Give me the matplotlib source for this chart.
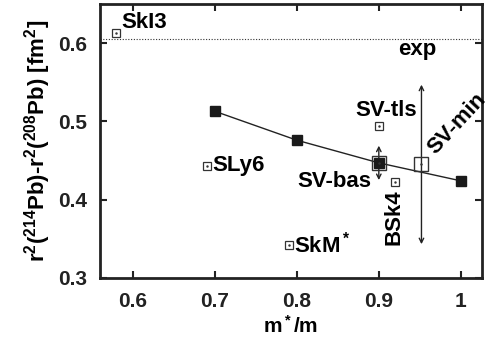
import matplotlib
matplotlib.use("Agg")
import matplotlib.pyplot as plt

plt.rcParams['font.family'] = ['Liberation Sans', 'DejaVu Sans']
plt.rcParams['font.weight'] = 'bold'
plt.rcParams['mathtext.fontset'] = 'custom'
plt.rcParams['mathtext.rm'] = 'Liberation Sans:bold'
plt.rcParams['mathtext.it'] = 'Liberation Sans:bold'
plt.rcParams['mathtext.bf'] = 'Liberation Sans:bold'

# series with varying effective mass (filled, connected)
line_x = [0.7, 0.8, 0.9, 1.0]
line_y = [0.513, 0.476, 0.447, 0.424]

# other forces (small open squares)
force_names = ["SkI3", "SLy6", "SkM$^*$", "SV-tls", "BSk4"]
force_x = [0.58, 0.69, 0.79, 0.90, 0.92]
force_y = [0.613, 0.443, 0.342, 0.494, 0.423]

# large open squares with error bars
big_names = ["SV-bas", "SV-min"]
big_x = [0.90, 0.952]
big_y = [0.447, 0.445]
big_err = [0.022, 0.102]

exp_value = 0.605

fig = plt.figure(figsize=(4.9, 3.43), dpi=100)
ax = fig.add_axes([0.204, 0.19, 0.78, 0.798])

ax.axhline(exp_value, color='#333333', lw=0.8, ls=(0, (1, 1.5)))
ax.plot(line_x, line_y, '-', color='#222222', lw=1.0, zorder=2)
ax.plot(line_x, line_y, 's', color='#1a1a1a', ms=7.3, zorder=4)

ax.plot(force_x, force_y, 's', mfc='white', mec='#333333', ms=6.3, mew=0.9, zorder=3)
ax.plot(force_x, force_y, '.', color='#333333', ms=1.5, zorder=3)

for x, y, e in zip(big_x, big_y, big_err):
    ax.annotate('', xy=(x, y + e), xytext=(x, y - e),
                arrowprops=dict(arrowstyle='<->', color='#222222', lw=1.0,
                                shrinkA=0, shrinkB=0, mutation_scale=8), zorder=1)
ax.plot(big_x, big_y, 's', mfc='none', mec='#333333', ms=10.5, mew=1.0, zorder=5)
ax.plot(big_x, big_y, '.', color='#333333', ms=1.5, zorder=5)

fs = 16
ax.text(0.586, 0.626, "SkI3", fontsize=fs, fontweight='bold', ha='left', va='center')
ax.text(0.947, 0.592, "exp", fontsize=fs, fontweight='bold', ha='center', va='center')
ax.text(0.909, 0.514, "SV-tls", fontsize=fs, fontweight='bold', ha='center', va='center')
ax.text(0.995, 0.497, "SV-min", fontsize=fs, fontweight='bold', ha='center', va='center', rotation=47)
ax.text(0.846, 0.423, "SV-bas", fontsize=fs, fontweight='bold', ha='center', va='center')
ax.text(0.918, 0.377, "BSk4", fontsize=fs, fontweight='bold', ha='center', va='center', rotation=90)
ax.text(0.697, 0.443, "SLy6", fontsize=fs, fontweight='bold', ha='left', va='center')
ax.text(0.797, 0.342, "SkM$^*$", fontsize=fs, fontweight='bold', ha='left', va='center')

ax.set_xlim(0.56, 1.026)
ax.set_ylim(0.3, 0.65)
ax.set_xticks([0.6, 0.7, 0.8, 0.9, 1.0])
ax.set_xticklabels(["0.6", "0.7", "0.8", "0.9", "1"])
ax.set_yticks([0.3, 0.4, 0.5, 0.6])
ax.set_yticklabels(["0.3", "0.4", "0.5", "0.6"])
ax.tick_params(direction='in', length=5, width=1.5, top=True, right=True,
               labelsize=15, colors='#222222')
ax.tick_params(axis='x', pad=10)
ax.tick_params(axis='y', pad=9)
for lab in ax.get_xticklabels() + ax.get_yticklabels():
    lab.set_fontweight('bold')
for s in ax.spines.values():
    s.set_linewidth(2)
    s.set_color('#222222')

ax.set_xlabel("m$^*$/m", fontsize=15, fontweight='bold', labelpad=3)
ax.set_ylabel("r$^2$($^{214}$Pb)-r$^2$($^{208}$Pb) [fm$^2$]", fontsize=16, fontweight='bold', labelpad=4)

fig.savefig("out.png", dpi=100)
